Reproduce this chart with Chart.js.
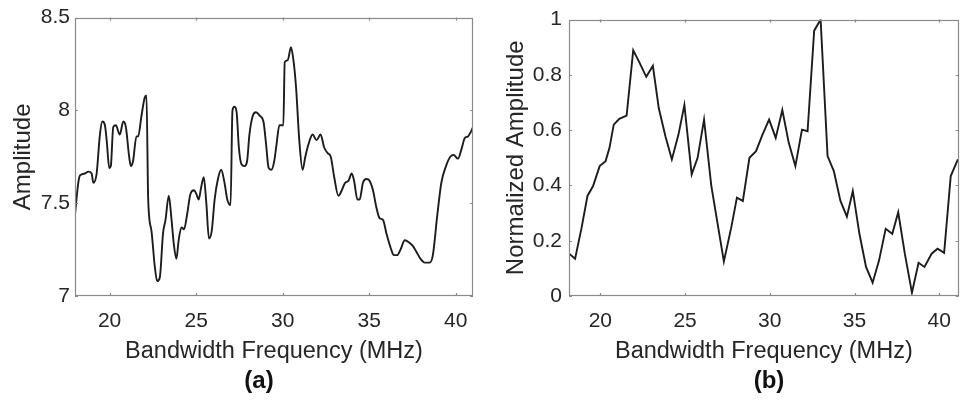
<!DOCTYPE html>
<html>
<head>
<meta charset="utf-8">
<script src="https://cdn.jsdelivr.net/npm/chart.js@4/dist/chart.umd.min.js"></script>
<style>
  html, body { margin: 0; padding: 0; background: #ffffff; }
  #wrap { position: relative; width: 964px; height: 402px; overflow: hidden; background: #fff; }
  canvas { position: absolute; top: 0; }
  .lbl { position: absolute; font-family: "Liberation Sans", Arial, sans-serif; font-weight: bold;
         font-size: 24px; color: #111; transform: translate(-50%, -50%); white-space: nowrap; }
</style>
</head>
<body>
<div id="wrap">
  <canvas id="ca" width="482" height="402" style="left:0px"></canvas>
  <canvas id="cb" width="482" height="402" style="left:482px"></canvas>
  <div class="lbl" style="left:259px; top:380px;">(a)</div>
  <div class="lbl" style="left:769px; top:380px;">(b)</div>
</div>
<script>
// ---- data (a): raw amplitude spectrum ----
const freqA = [18.0,18.19,18.29,18.58,18.77,18.96,19.06,19.25,19.44,19.58,19.73,19.83,19.98,20.07,20.21,20.36,20.59,20.79,20.94,21.13,21.23,21.36,21.55,21.65,21.84,22.03,22.13,22.23,22.42,22.61,22.75,22.9,23.09,23.23,23.42,23.57,23.71,23.86,23.99,24.15,24.3,24.48,24.67,24.88,25.01,25.15,25.28,25.44,25.59,25.74,25.9,26.07,26.26,26.45,26.64,26.8,26.99,27.1,27.22,27.34,27.47,27.62,27.8,27.95,28.08,28.27,28.46,28.69,28.89,29.04,29.19,29.35,29.52,29.65,29.81,29.92,30.04,30.12,30.29,30.48,30.61,30.77,30.96,31.15,31.31,31.5,31.73,31.96,32.19,32.4,32.6,32.78,32.98,33.22,33.42,33.61,33.8,33.99,34.13,34.32,34.45,34.64,34.84,35.03,35.22,35.41,35.6,35.8,35.99,36.24,36.43,36.62,36.81,37.06,37.29,37.52,37.72,37.97,38.21,38.5,38.68,38.93,39.17,39.44,39.69,39.88,40.13,40.33,40.52,40.71,40.85,41.0];
const ampA  = [7.44,7.61,7.65,7.66,7.67,7.66,7.61,7.66,7.87,7.94,7.92,7.84,7.69,7.70,7.91,7.92,7.87,7.94,7.91,7.75,7.70,7.73,7.86,7.86,7.97,8.07,8.08,7.52,7.35,7.16,7.08,7.10,7.34,7.41,7.54,7.42,7.28,7.20,7.30,7.37,7.36,7.44,7.55,7.57,7.55,7.52,7.58,7.64,7.50,7.31,7.35,7.52,7.63,7.68,7.61,7.52,7.49,8.00,8.02,7.99,7.80,7.71,7.70,7.73,7.87,7.97,7.99,7.97,7.94,7.82,7.69,7.68,7.73,7.82,7.92,7.92,7.92,8.26,8.27,8.34,8.28,8.13,7.84,7.68,7.75,7.82,7.87,7.84,7.87,7.80,7.77,7.75,7.64,7.54,7.57,7.61,7.62,7.66,7.62,7.52,7.52,7.61,7.63,7.62,7.57,7.48,7.42,7.41,7.34,7.26,7.22,7.22,7.25,7.30,7.29,7.27,7.24,7.20,7.18,7.18,7.22,7.43,7.61,7.70,7.75,7.76,7.74,7.79,7.85,7.86,7.88,7.91];

// ---- data (b): normalized amplitude ----
const freqB = [18.16,18.51,18.9,19.24,19.57,19.96,20.31,20.54,20.79,21.12,21.55,21.94,22.29,22.71,23.1,23.45,23.84,24.22,24.61,24.96,25.39,25.74,26.12,26.55,27.29,27.73,28.06,28.41,28.8,29.19,29.57,29.96,30.35,30.74,31.12,31.51,31.9,32.23,32.62,33.0,33.41,33.78,34.17,34.55,34.9,35.29,35.68,36.07,36.45,36.84,37.23,37.58,37.97,38.39,38.78,39.13,39.55,39.9,40.29,40.68,41.1];
const ampB  = [0.153,0.135,0.249,0.362,0.398,0.47,0.488,0.536,0.62,0.641,0.653,0.889,0.847,0.793,0.833,0.679,0.578,0.494,0.584,0.691,0.44,0.5,0.638,0.398,0.125,0.249,0.356,0.344,0.5,0.524,0.584,0.638,0.572,0.673,0.554,0.47,0.602,0.596,0.96,1.0,0.506,0.452,0.344,0.287,0.38,0.225,0.105,0.048,0.129,0.243,0.225,0.303,0.153,0.012,0.12,0.105,0.153,0.171,0.156,0.434,0.494];

// ---- tick labels / axis text ----
const xTickValues = [20, 25, 30, 35, 40];
const xTitle = 'Bandwidth Frequency (MHz)';
const yTitleA = 'Amplitude';
const yTitleB = 'Normalized Amplitude';

const FONT = '"Liberation Sans", Arial, sans-serif';
const TEXT = '#262626';
const FRAME = '#8a8a8a';

const boxPlugin = {
  id: 'matlabBox',
  afterDraw(chart) {
    const {ctx, chartArea: a, scales} = chart;
    ctx.save();
    ctx.strokeStyle = FRAME;
    ctx.lineWidth = 1.2;
    ctx.strokeRect(Math.round(a.left) + 0.5, Math.round(a.top) + 0.5,
                   Math.round(a.right - a.left) - 1, Math.round(a.bottom - a.top) - 1);
    const L = 3;
    ctx.beginPath();
    scales.x.ticks.forEach(t => {
      const px = Math.round(scales.x.getPixelForValue(t.value)) + 0.5;
      ctx.moveTo(px, a.bottom); ctx.lineTo(px, a.bottom - L);
      ctx.moveTo(px, a.top); ctx.lineTo(px, a.top + L);
    });
    scales.y.ticks.forEach(t => {
      const py = Math.round(scales.y.getPixelForValue(t.value)) + 0.5;
      ctx.moveTo(a.left, py); ctx.lineTo(a.left + L, py);
      ctx.moveTo(a.right, py); ctx.lineTo(a.right - L, py);
    });
    ctx.stroke();
    ctx.restore();
  }
};

function makeChart(id, xs, ys, cfg) {
  const pts = xs.map((x, i) => ({x, y: ys[i]}));
  return new Chart(document.getElementById(id), {
    type: 'line',
    data: { datasets: [{
      data: pts,
      borderColor: '#1c1c1c',
      borderWidth: 1.9,
      pointRadius: 0,
      tension: cfg.tension,
      cubicInterpolationMode: cfg.tension > 0 ? 'monotone' : 'default',
      fill: false
    }]},
    options: {
      responsive: false,
      animation: false,
      devicePixelRatio: 1,
      layout: { padding: { top: 17, right: cfg.padRight, bottom: 36, left: 0 } },
      plugins: { legend: { display: false }, tooltip: { enabled: false }, title: { display: false } },
      scales: {
        x: {
          type: 'linear', min: cfg.xmin, max: cfg.xmax,
          afterBuildTicks: s => { s.ticks = xTickValues.map(v => ({value: v})); },
          afterFit: s => { s.height = 70; },
          grid: { display: false, drawTicks: false },
          border: { display: false },
          ticks: { padding: 13, color: TEXT, font: { family: FONT, size: 21 }, maxRotation: 0,
                   callback: v => String(v) },
          title: { display: true, text: xTitle, color: TEXT, padding: { top: 0, bottom: 0 },
                   font: { family: FONT, size: 23.5, lineHeight: 1.2 } }
        },
        y: {
          type: 'linear', min: cfg.ymin, max: cfg.ymax,
          ticks: { stepSize: cfg.ystep, padding: cfg.yTickPad, color: TEXT,
                   font: { family: FONT, size: 21 },
                   callback: v => String(Math.round(v * 10) / 10) },
          afterFit: s => { s.width = cfg.yWidth; },
          grid: { display: false, drawTicks: false },
          border: { display: false },
          title: { display: true, text: cfg.yTitle, color: TEXT, padding: { top: cfg.yTitlePad, bottom: 0 },
                   font: { family: FONT, size: 24, lineHeight: 1.2 } }
        }
      }
    },
    plugins: [boxPlugin]
  });
}

makeChart('ca', freqA, ampA, {
  tension: 0.4, xmin: 18, xmax: 41, ymin: 7, ymax: 8.5, ystep: 0.5,
  yWidth: 75, yTickPad: 5, yTitlePad: 9, padRight: 9, yTitle: yTitleA
});
makeChart('cb', freqB, ampB, {
  tension: 0, xmin: 18.15, xmax: 41.15, ymin: 0, ymax: 1, ystep: 0.2,
  yWidth: 87, yTickPad: 7, yTitlePad: 20, padRight: 2, yTitle: yTitleB
});
</script>
</body>
</html>
